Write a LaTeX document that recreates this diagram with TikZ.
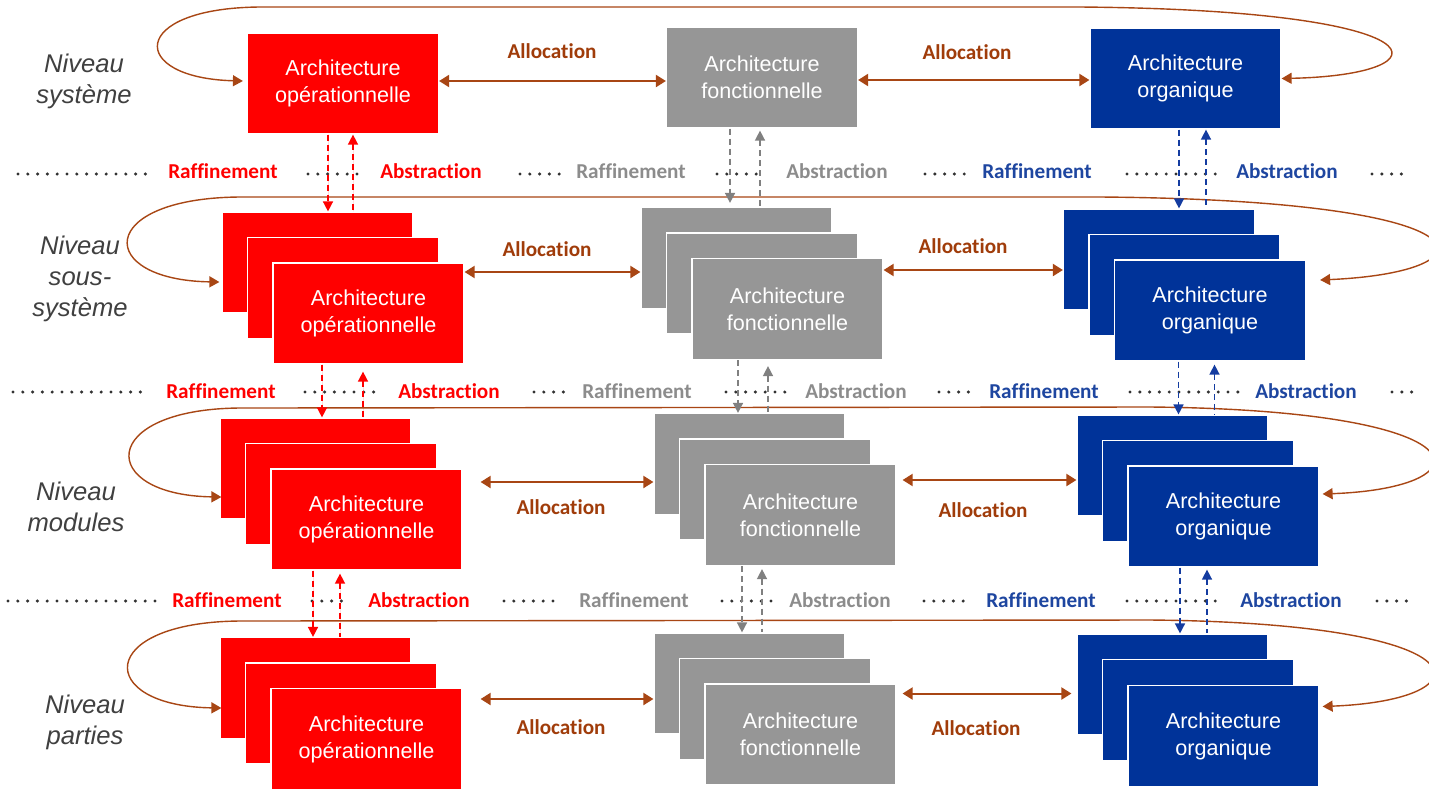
\documentclass[tikz,border=0pt]{standalone}
\usepackage{fontspec}
\setmainfont{Liberation Sans}
\newfontfamily\lblfont[Ligatures=NoCommon]{Carlito}
\usetikzlibrary{arrows.meta,calc}

\definecolor{opred}{RGB}{255,0,0}
\definecolor{fngray}{RGB}{150,150,150}
\definecolor{orgblue}{RGB}{0,51,153}
\definecolor{alloc}{RGB}{168,70,20}
\definecolor{alloctext}{RGB}{160,60,10}
\definecolor{dotgray}{RGB}{50,50,50}
\definecolor{lvltext}{RGB}{64,64,64}
\definecolor{graytext}{RGB}{140,140,140}
\definecolor{graydash}{RGB}{128,128,128}
\definecolor{bluetext}{RGB}{30,70,160}
\definecolor{bluedash}{RGB}{20,60,160}

% vertical refinement / abstraction link between two levels
\newcommand\vlink[4]{\draw[#1] ($(#2.south)+(#3,0)$) coordinate (vl) -- (vl |- #4.north);}

\tikzset{
  archbox/.style={draw=white, line width=0.6pt, minimum width=95.5pt, minimum height=50.5pt,
    inner sep=0pt, text=white, align=center, font=\fontsize{10.8}{13.5}\selectfont},
  opbox/.style={archbox, fill=opred},
  fnbox/.style={archbox, fill=fngray},
  orgbox/.style={archbox, fill=orgblue},
  levellabel/.style={text=lvltext, align=center, font=\fontsize{12.8}{15.5}\selectfont\itshape},
  taglabel/.style={font=\lblfont\bfseries\fontsize{10.6}{12}\selectfont, inner sep=0pt},
  alloclabel/.style={taglabel, text=alloctext},
  allocarrow/.style={draw=alloc, line width=1pt,
    {Triangle[length=5pt,width=6pt]}-{Triangle[length=5pt,width=6pt]}},
  levelloop/.style={draw=alloc, line width=0.7pt,
    {Triangle[length=5pt,width=5.5pt]}-{Triangle[length=5pt,width=5.5pt]}},
  dotrow/.style={draw=dotgray, line width=1.7pt, line cap=round, dash pattern=on 0pt off 4.9pt},
  dashlink/.style={line width=0.75pt, dash pattern=on 3pt off 2pt},
  reddown/.style={dashlink, draw=opred, fill=opred, -{Triangle[length=5pt,width=5pt]}},
  redup/.style={dashlink, draw=opred, fill=opred, {Triangle[length=5pt,width=5pt]}-},
  graydown/.style={dashlink, draw=graydash, -{Triangle[length=5pt,width=5pt]}},
  grayup/.style={dashlink, draw=graydash, {Triangle[length=5pt,width=5pt]}-},
  bluedown/.style={dashlink, draw=bluedash, -{Triangle[length=5pt,width=5pt]}},
  blueup/.style={dashlink, draw=bluedash, {Triangle[length=5pt,width=5pt]}-},
}

\begin{document}
\begin{tikzpicture}[x=0.5pt,y=-0.5pt]
\useasboundingbox[fill=white] (0,0) rectangle (1429,789);

% ---------- level labels ----------
\node[levellabel] (n1) at (84,81) {Niveau\\système};
\node[levellabel] (n2) at (80,279) {Niveau\\sous-\\système};
\node[levellabel] (n3) at (76,507) {Niveau\\modules};
\node[levellabel] (n4) at (85,722) {Niveau\\parties};

% ---------- dotted separators ----------
\foreach \a/\b in {18/147,308/358,520/560,717/763,925/965,1127/1217,1372/1410}
  \draw[dotrow] (\a,174) -- (\b,174);
\foreach \a/\b in {13/143,305/382,534/565,726/786,939/970,1130/1238,1392/1413}
  \draw[dotrow] (\a,392) -- (\b,392);
\foreach \a/\b in {8/155,312/348,504/561,722/772,924/967,1127/1223,1377/1408}
  \draw[dotrow] (\a,601) -- (\b,601);

% ---------- refinement / abstraction tags ----------
\node[taglabel, text=opred]     (rr1) at (223,171) {Raffinement};
\node[taglabel, text=opred]     (ra1) at (431,171) {Abstraction};
\node[taglabel, text=graytext]  (gr1) at (631,171) {Raffinement};
\node[taglabel, text=graytext]  (ga1) at (837,171) {Abstraction};
\node[taglabel, text=bluetext]  (br1) at (1037,171) {Raffinement};
\node[taglabel, text=bluetext]  (ba1) at (1287,171) {Abstraction};

\node[taglabel, text=opred]     (rr2) at (221,391) {Raffinement};
\node[taglabel, text=opred]     (ra2) at (449,391) {Abstraction};
\node[taglabel, text=graytext]  (gr2) at (637,391) {Raffinement};
\node[taglabel, text=graytext]  (ga2) at (856,391) {Abstraction};
\node[taglabel, text=bluetext]  (br2) at (1044,391) {Raffinement};
\node[taglabel, text=bluetext]  (ba2) at (1306,391) {Abstraction};

\node[taglabel, text=opred]     (rr3) at (227,600) {Raffinement};
\node[taglabel, text=opred]     (ra3) at (419,600) {Abstraction};
\node[taglabel, text=graytext]  (gr3) at (634,600) {Raffinement};
\node[taglabel, text=graytext]  (ga3) at (840,600) {Abstraction};
\node[taglabel, text=bluetext]  (br3) at (1041,600) {Raffinement};
\node[taglabel, text=bluetext]  (ba3) at (1291,600) {Abstraction};

% ---------- architecture boxes ----------
% system level
\node[opbox]  (r1) at (343,83.5)   {Architecture\\opérationnelle};
\node[fnbox]  (g1) at (762,77.5)   {Architecture\\fonctionnelle};
\node[orgbox] (b1) at (1185.5,78.5){Architecture\\organique};

% sub-system level
\node[opbox]  (r2a) at (317.5,262.5) {};
\node[opbox]  (r2b) at (343,288)     {};
\node[opbox]  (r2c) at (368.5,313.5) {Architecture\\opérationnelle};
\node[fnbox]  (g2a) at (736.5,258)   {};
\node[fnbox]  (g2b) at (762,283.5)   {};
\node[fnbox]  (g2c) at (787.5,309)   {Architecture\\fonctionnelle};
\node[orgbox] (b2a) at (1159,259.5)  {};
\node[orgbox] (b2b) at (1184.5,285)  {};
\node[orgbox] (b2c) at (1210,310.5)  {Architecture\\organique};

% modules level
\node[opbox]  (r3a) at (315.5,468.5) {};
\node[opbox]  (r3b) at (341,494)     {};
\node[opbox]  (r3c) at (366.5,519.5) {Architecture\\opérationnelle};
\node[fnbox]  (g3a) at (749.5,464)   {};
\node[fnbox]  (g3b) at (775,489.5)   {};
\node[fnbox]  (g3c) at (800.5,515)   {Architecture\\fonctionnelle};
\node[orgbox] (b3a) at (1172.5,465.5){};
\node[orgbox] (b3b) at (1198,491)    {};
\node[orgbox] (b3c) at (1223.5,516.5){Architecture\\organique};

% parts level
\node[opbox]  (r4a) at (315.5,688)   {};
\node[opbox]  (r4b) at (341,713.5)   {};
\node[opbox]  (r4c) at (366.5,739)   {Architecture\\opérationnelle};
\node[fnbox]  (g4a) at (749.5,683.5) {};
\node[fnbox]  (g4b) at (775,709)     {};
\node[fnbox]  (g4c) at (800.5,734.5) {Architecture\\fonctionnelle};
\node[orgbox] (b4a) at (1172.5,684.5){};
\node[orgbox] (b4b) at (1198,710)    {};
\node[orgbox] (b4c) at (1223.5,736)  {Architecture\\organique};

% ---------- loops closing each level ----------
\draw[levelloop] ($(r1.west)+(-4,-2.5)$) .. controls (128,78) and (128,8) .. (260,7)
  -- (1080,7) .. controls (1450,10) and (1450,75) .. (b1.east);
\draw[levelloop] ($(r2a.west)+(-2,19.5)$) .. controls (95,280) and (95,198) .. (240,197)
  -- (1100,197) .. controls (1500,200) and (1500,272) .. ($(b2c.east)+(14,-30.5)$);
\draw[levelloop] ($(r3a.west)+(2,28.5)$) .. controls (97,495) and (97,409) .. (240,408)
  -- (1150,407) .. controls (1490,410) and (1490,488) .. ($(b3c.east)+(3,-22.5)$);
\draw[levelloop] ($(r4a.west)+(2,20)$) .. controls (95,706) and (95,622) .. (240,621)
  -- (1150,620) .. controls (1490,623) and (1490,700) .. ($(b4c.east)+(3,-29.5)$);

% ---------- allocation links ----------
\coordinate (al1) at (0,81);   \coordinate (ar1) at (0,80);
\coordinate (al2) at (0,272);  \coordinate (ar2) at (0,270);
\coordinate (al3) at (0,482);  \coordinate (ar3) at (0,480);
\coordinate (al4) at (0,699);  \coordinate (ar4) at (0,693.5);

\draw[allocarrow] (r1.east |- al1) -- (g1.west |- al1);
\draw[allocarrow] (g1.east |- ar1) -- (b1.west |- ar1);
\draw[allocarrow] (r2c.east |- al2) -- (g2a.west |- al2);
\draw[allocarrow] (g2c.east |- ar2) -- (b2a.west |- ar2);
\draw[allocarrow] ($(r3c.east |- al3)+(18,0)$) -- (g3a.west |- al3);
\draw[allocarrow] ($(g3c.east |- ar3)+(6,0)$) -- (b3a.west |- ar3);
\draw[allocarrow] ($(r4c.east |- al4)+(18,0)$) -- (g4a.west |- al4);
\draw[allocarrow] ($(g4c.east |- ar4)+(6,0)$) -- ($(b4a.west |- ar4)+(-5,0)$);

\node[alloclabel] (t1l) at (552,51)  {Allocation};
\node[alloclabel] (t1r) at (967,52)  {Allocation};
\node[alloclabel] (t2l) at (547,249) {Allocation};
\node[alloclabel] (t2r) at (963,246) {Allocation};
\node[alloclabel] (t3l) at (561,507) {Allocation};
\node[alloclabel] (t3r) at (983,510) {Allocation};
\node[alloclabel] (t4l) at (561,727) {Allocation};
\node[alloclabel] (t4r) at (976,728) {Allocation};

% ---------- refinement (down) and abstraction (up) links ----------
\vlink{reddown}{r1}{-15}{r2a}
\vlink{redup}{r1}{10}{r2a}
\vlink{graydown, shorten >=2pt}{g1}{-32}{g2a}
\vlink{grayup, shorten <=1pt}{g1}{-2}{g2a}
\vlink{bluedown}{b1}{-6.5}{b2a}
\vlink{blueup}{b1}{20.5}{b2a}

\vlink{reddown}{r2c}{-46.5}{r3a}
\vlink{redup, shorten <=3.5pt}{r2c}{-5.5}{r3a}
\vlink{graydown}{g2c}{-49.5}{g3a}
\vlink{grayup, shorten <=3pt}{g2c}{-19.5}{g3a}
\vlink{bluedown}{b2c}{-31.5}{b3a}
\vlink{blueup, shorten <=1.5pt}{b2c}{4.5}{b3a}

\vlink{reddown}{r3c}{-53.5}{r4a}
\vlink{redup, shorten <=1.5pt}{r3c}{-26.5}{r4a}
\vlink{graydown}{g3c}{-58.5}{g4a}
\vlink{grayup, shorten <=1.5pt}{g3c}{-38.5}{g4a}
\vlink{bluedown}{b3c}{-43.5}{b4a}
\vlink{blueup, shorten <=1pt}{b3c}{-16.5}{b4a}
\end{tikzpicture}
\end{document}
